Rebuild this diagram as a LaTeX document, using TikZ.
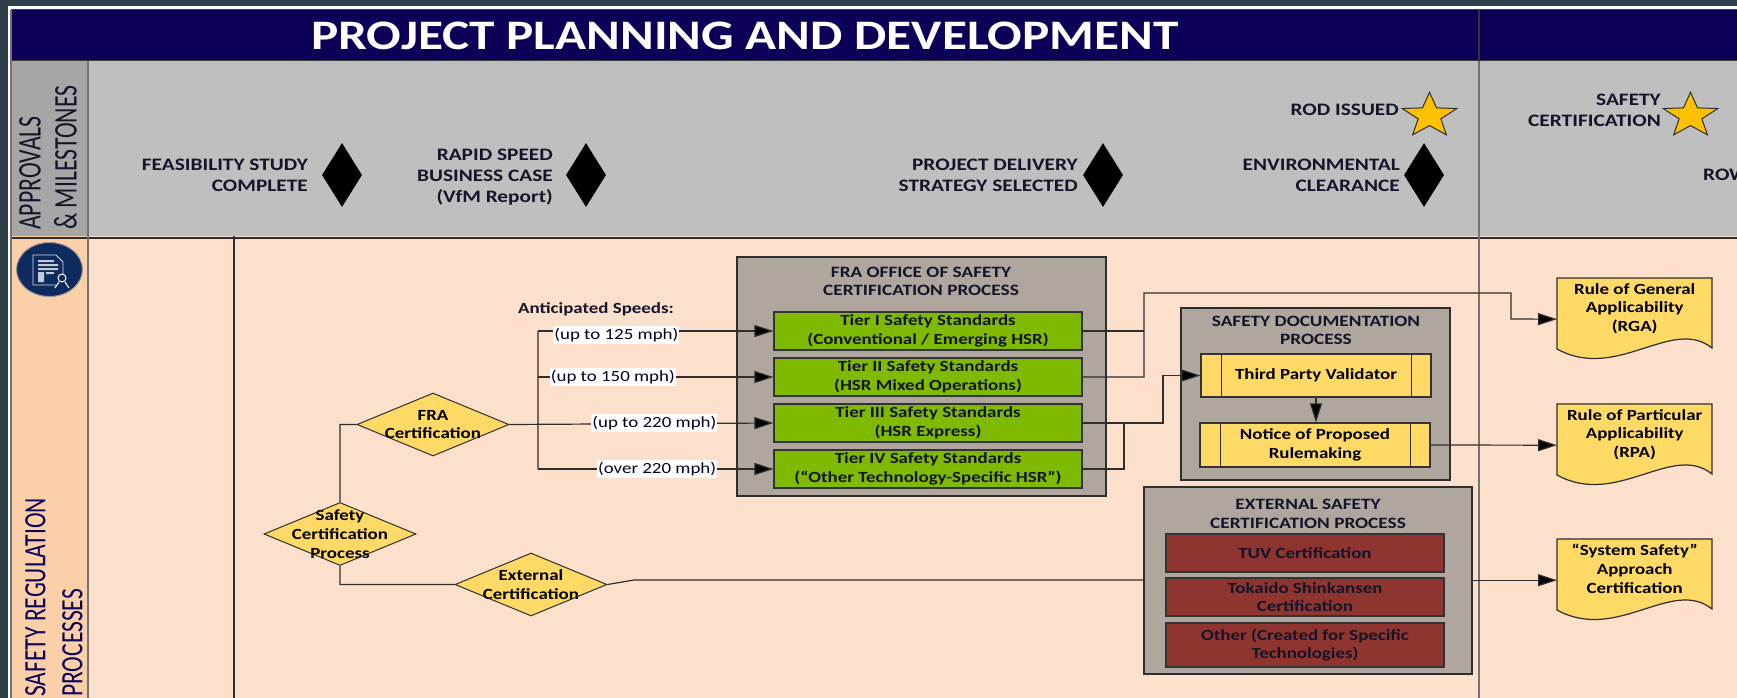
\documentclass[tikz,border=0pt]{standalone}
\usepackage{fontspec}
\usepackage{xcolor}
\usepackage{tikz}
\usetikzlibrary{arrows.meta}
\usetikzlibrary{shapes.geometric}
\setmainfont[FakeStretch=1.22]{Carlito}
\newfontfamily\sidefont[FakeStretch=0.72]{Carlito}
\newfontfamily\lowsidefont[FakeStretch=0.76]{Carlito}
\definecolor{frameslate}{HTML}{2F3F49}
\definecolor{headnavy}{HTML}{0A0058}
\definecolor{milegray}{HTML}{BFBFBF}
\definecolor{sidegray}{HTML}{A6A6A6}
\definecolor{rowpeach}{HTML}{FDE0CB}
\definecolor{sidepeach}{HTML}{FBCFA8}
\definecolor{panelgray}{HTML}{AFA69E}
\definecolor{tiergreen}{HTML}{80BA00}
\definecolor{gateyellow}{HTML}{FFD966}
\definecolor{certred}{HTML}{8E3530}
\definecolor{inkdark}{HTML}{14142A}
\definecolor{linegray}{HTML}{2E2E2E}
\definecolor{starfill}{HTML}{FFC000}
\definecolor{iconnavy}{HTML}{0F2A5C}
\newcommand{\boldtext}[1]{\fontsize{#1}{18.7}\selectfont\bfseries}
\tikzset{
  wire/.style={draw=linegray,line width=1.2pt},
  flow/.style={wire,-{Triangle[length=19pt,width=12pt,fill=black]}},
  milelabel/.style={align=right,anchor=east,inner sep=0pt,text=inkdark,font=\fontsize{17.5}{21}\selectfont\bfseries},
  milemark/.style={diamond,fill=black,minimum width=40pt,minimum height=64pt,inner sep=0pt},
  starmark/.style={star,star points=5,star point ratio=2.4,draw=linegray,line width=1pt,fill=starfill,minimum size=47pt,inner sep=0pt,xscale=1.22,transform shape},
  gate/.style={diamond,draw=linegray,line width=1pt,fill=gateyellow,minimum width=152pt,minimum height=63pt,inner sep=0pt},
  gatetext/.style={align=center,inner sep=0pt,text=black,font=\boldtext{15.5}},
  panel/.style={draw=linegray,line width=1.2pt,fill=panelgray,inner sep=0pt},
  paneltitle/.style={align=center,inner sep=0pt,text=inkdark,font=\boldtext{15.8}},
  tierbox/.style={draw=black!80,line width=1.2pt,fill=tiergreen,minimum width=308pt,minimum height=38pt,inner sep=0pt,align=center,text=inkdark,font=\boldtext{15.5}},
  certbox/.style={draw=black!80,line width=1.2pt,fill=certred,minimum width=278pt,inner sep=0pt,align=center,text=inkdark,font=\boldtext{15.5}},
  stepbox/.style={draw=black!80,line width=1.2pt,fill=gateyellow,minimum width=230pt,inner sep=0pt,align=center,text=black,font=\boldtext{15.5},
    path picture={\draw[linegray,line width=1pt]
      ([xshift=20pt]path picture bounding box.north west) -- ([xshift=20pt]path picture bounding box.south west)
      ([xshift=-20pt]path picture bounding box.north east) -- ([xshift=-20pt]path picture bounding box.south east);}},
  speedtag/.style={fill=white,inner xsep=1pt,inner ysep=2pt,text=black!85!blue,font=\fontsize{15.5}{18}\selectfont},
  docedge/.style={draw=linegray,line width=1.2pt,fill=gateyellow}
}
\newcommand{\docnode}[4]{
  \draw[docedge] (#2,#3) -- (#2+155,#3) -- (#2+155,#3+70)
    .. controls (#2+115,#3+38) and (#2+60,#3+104) .. (#2,#3+71) -- cycle;
  \node[minimum width=155pt,minimum height=82pt,inner sep=0pt,anchor=north west,
    label={[anchor=north,yshift=-5pt,align=center,inner sep=0pt,text=black,font=\boldtext{15.5}]north:{#4}}] (#1) at (#2,#3) {};
}

\begin{document}
\begin{tikzpicture}[x=1pt,y=-1pt]
  \useasboundingbox (0,0) rectangle (1737,698);
  \clip (0,0) rectangle (1737,698);
  \fill[frameslate] (0,0) rectangle (1737,698);
  \fill[white] (8,6) rectangle (1737,698);
  \fill[headnavy] (11,10) rectangle (1737,61);
  \fill[milegray] (11,61) rectangle (1737,236);
  \fill[sidegray] (11,61) rectangle (88,236);
  \fill[rowpeach] (11,236) rectangle (1737,698);
  \fill[sidepeach] (11,236) rectangle (88,698);
  \draw[black!75,line width=1pt] (11,10) -- (1737,10) (11,61) -- (1737,61);
  \draw[linegray,line width=1.2pt] (11,238) -- (1737,238) (234,236) -- (234,698);
  \draw[black!55,line width=1.6pt] (88,61) -- (88,698) (11,10) -- (11,698);
  \draw[black!55,line width=1.6pt] (1479,61) -- (1479,698);
  \draw[black!80,line width=1.6pt] (1479,10) -- (1479,61);

  \node[text=white,font=\fontsize{42}{44}\selectfont\bfseries] (maintitle) at (745,36) {PROJECT PLANNING AND DEVELOPMENT};
  \node[rotate=90,anchor=north west,align=left,inner sep=0pt,text=inkdark,font=\sidefont\fontsize{33}{36}\selectfont] (milehead) at (19,230) {APPROVALS\\\& MILESTONES};
  \node[rotate=90,anchor=north west,align=left,inner sep=0pt,text=headnavy,font=\lowsidefont\fontsize{31}{37}\selectfont] (safetyhead) at (25,697) {SAFETY REGULATION\\PROCESSES};

  \node[ellipse,draw=black!40,line width=1pt,fill=iconnavy,minimum width=66pt,minimum height=54pt,inner sep=0pt] (docicon) at (49.5,269.5) {};
  \draw[white!85!iconnavy,line width=.9pt] (33,255) -- (56,255) -- (63,262) -- (63,274) (33,255) -- (33,285) -- (56,285);
  \fill[white!75!iconnavy] (38,260) rectangle (54,262) (38,264) rectangle (58,266) (38,268) rectangle (58,270) (38,272) rectangle (44,282) (46,272) rectangle (54,274);
  \draw[white,line width=1pt] (62,278) circle[radius=4pt] (59,282) -- (55,288) (65,282) -- (69,288);

  \node[milelabel] (feaslabel) at (308,175) {FEASIBILITY STUDY\\COMPLETE};
  \node[milemark] (feasmark) at (342,175) {};
  \node[milelabel] (rapidlabel) at (553,177) {RAPID SPEED\\BUSINESS CASE\\(VfM Report)};
  \node[milemark] (rapidmark) at (586,175) {};
  \node[milelabel] (deliverylabel) at (1078,175) {PROJECT DELIVERY\\STRATEGY SELECTED};
  \node[milemark] (deliverymark) at (1103,175) {};
  \node[milelabel] (envlabel) at (1400,175) {ENVIRONMENTAL\\CLEARANCE};
  \node[milemark] (envmark) at (1424,175) {};
  \node[milelabel] (rodlabel) at (1399,110) {ROD ISSUED};
  \node (rodstar) at (1429.5,115.8) [starmark] {};
  \node[milelabel] (certlabel) at (1661,110) {SAFETY\\CERTIFICATION};
  \node (certstar) at (1690.5,115.8) [starmark] {};
  \node[milelabel,anchor=west] (rowlabel) at (1703,175) {ROW};

  \node[panel,minimum width=369pt,minimum height=239pt] (fraoffice) at (921.5,376.5) {};
  \node[paneltitle] (fratitle) at (921,281.5) {FRA OFFICE OF SAFETY\\CERTIFICATION PROCESS};
  \node[tierbox] (tierone) at (928,331) {Tier I Safety Standards\\(Conventional / Emerging HSR)};
  \node[tierbox] (tiertwo) at (928,377) {Tier II Safety Standards\\(HSR Mixed Operations)};
  \node[tierbox] (tierthree) at (928,423) {Tier III Safety Standards\\(HSR Express)};
  \node[tierbox] (tierfour) at (928,469) {Tier IV Safety Standards\\(“Other Technology-Specific HSR”)};

  \node[panel,minimum width=269pt,minimum height=172pt] (docpanel) at (1315.5,394) {};
  \node[paneltitle] (doctitle) at (1316,330.5) {SAFETY DOCUMENTATION\\PROCESS};
  \node[stepbox,minimum height=43pt] (validator) at (1316,375.5) {Third Party Validator};
  \node[stepbox,minimum height=44pt] (notice) at (1315,445) {Notice of Proposed\\Rulemaking};

  \node[panel,minimum width=328pt,minimum height=187pt] (extpanel) at (1308,580.5) {};
  \node[paneltitle] (exttitle) at (1308,514) {EXTERNAL SAFETY\\CERTIFICATION PROCESS};
  \node[certbox,minimum height=38pt] (tuv) at (1305,553) {TUV Certification};
  \node[certbox,minimum height=38pt] (tokaido) at (1305,597) {Tokaido Shinkansen\\Certification};
  \node[certbox,minimum height=44pt] (othercert) at (1305,645) {Other (Created for Specific\\Technologies)};

  \docnode{rga}{1557}{278}{Rule of General\\Applicability\\(RGA)}
  \docnode{rpa}{1557}{404}{Rule of Particular\\Applicability\\(RPA)}
  \docnode{ssa}{1557}{539}{“System Safety”\\Approach\\Certification}

  \node[gate,label={[gatetext]center:{Safety\\Certification\\Process}}] (scp) at (340,534) {};
  \node[gate,label={[gatetext]center:{FRA\\Certification}}] (fra) at (433,424.5) {};
  \node[gate,label={[gatetext]center:{External\\Certification}}] (ext) at (531,584.5) {};
  \node[anchor=west,inner sep=0pt,text=inkdark,font=\boldtext{15.5}] (speedhead) at (518,309) {Anticipated Speeds:};

  \coordinate (bustop) at (538,331);
  \coordinate (busmid) at (538,377);
  \coordinate (busend) at (538,469);
  \coordinate (extkink) at (634,580);
  \coordinate (rgaup) at (1144,293);
  \coordinate (rgaover) at (1511,293);
  \coordinate (rgadown) at (1511,319);
  \coordinate (valup) at (1163,423);
  \coordinate (valover) at (1163,375.5);
  \coordinate (fourup) at (1124,469);
  \coordinate (fourmeet) at (1124,423);

  \path[wire]
    (scp.north) |- (fra.west)
    (scp.south) |- (ext.west)
    (bustop) -- (busend)
    (ext.east) -- (extkink) -- (extkink -| extpanel.west);
  \draw[flow] (extpanel.east |- ssa.west) -- (ssa.west);
  \draw[flow] (bustop) -- node[speedtag,pos=.333,yshift=-4pt] (tagone) {(up to 125 mph)} (tierone.west);
  \draw[flow] (busmid) -- node[speedtag,pos=.318] (tagtwo) {(up to 150 mph)} (tiertwo.west);
  \draw[flow] (fra.east) -- node[speedtag,pos=.549,yshift=1pt] (tagthree) {(up to 220 mph)} (tierthree.west);
  \draw[flow] (busend) -- node[speedtag,pos=.506] (tagfour) {(over 220 mph)} (tierfour.west);
  \draw[wire] (tierone.east) -- (tierone.east -| rgaup);
  \draw[flow] (tiertwo.east) -| (rgaup) -- (rgaover) -- (rgadown) -- (rga.west);
  \draw[flow] (tierthree.east) -- (valup) -- (valover) -- (validator.west);
  \draw[wire] (tierfour.east) -- (fourup) -- (fourmeet);
  \draw[flow] (validator.south) -- (validator.south |- notice.north);
  \draw[flow] (notice.east) -- (rpa.west);
\end{tikzpicture}
\end{document}
